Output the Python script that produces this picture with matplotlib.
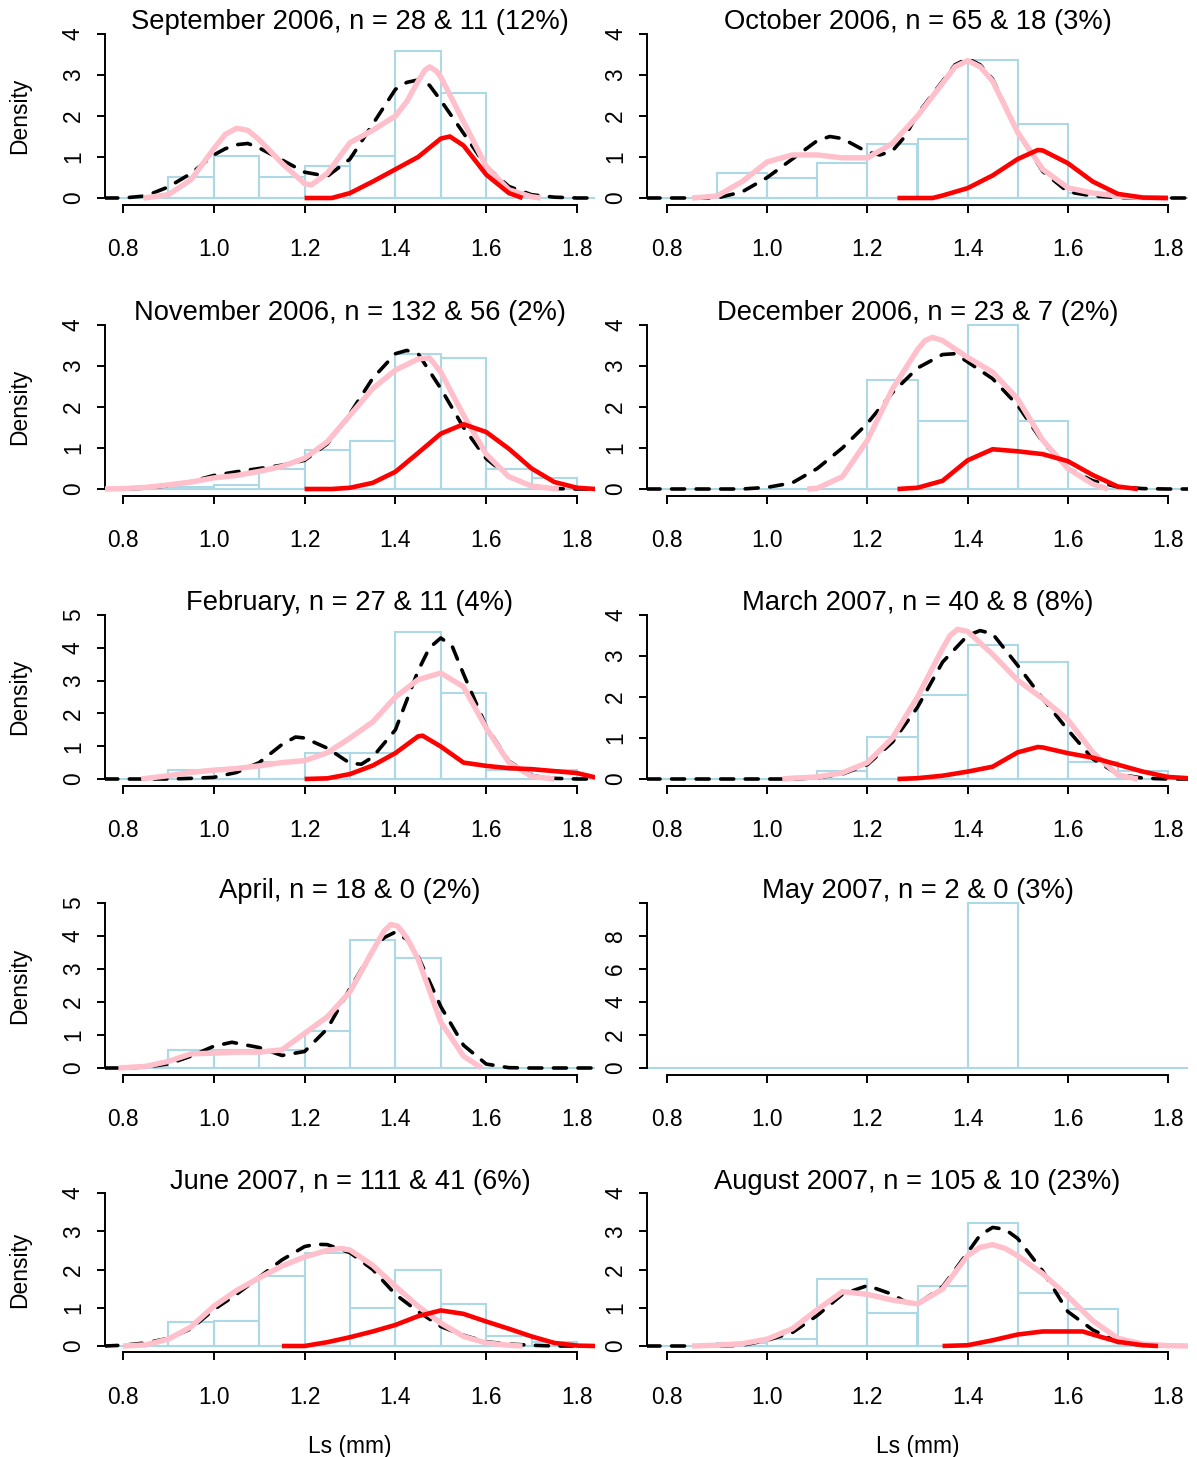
import numpy as np
import matplotlib
matplotlib.use('Agg')
import matplotlib.pyplot as plt
from matplotlib.transforms import offset_copy

plt.rcParams['font.family'] = ['Liberation Sans', 'DejaVu Sans']

# ---- data (densities, Ls in mm) ----
titles = ['September 2006, n = 28 & 11 (12%)', 'October 2006, n = 65 & 18 (3%)',
          'November 2006, n = 132 & 56 (2%)', 'December 2006, n = 23 & 7 (2%)',
          'February, n = 27 & 11 (4%)', 'March 2007, n = 40 & 8 (8%)',
          'April, n = 18 & 0 (2%)', 'May 2007, n = 2 & 0 (3%)',
          'June 2007, n = 111 & 41 (6%)', 'August 2007, n = 105 & 10 (23%)']
y_max = [4, 4, 4, 4, 5, 4, 5, 10, 4, 4]
y_step = [1, 1, 1, 1, 1, 1, 1, 2, 1, 1]

# histogram: first bin left edge, bin heights (bin width 0.1)
hist_start = [0.9, 0.9, 0.9, 1.2, 0.9, 1.1, 0.9, 1.4, 0.9, 0.9]
sep_hist = [0.513, 1.026, 0.513, 0.769, 1.026, 3.590, 2.564]
oct_hist = [0.602, 0.482, 0.843, 1.325, 1.446, 3.373, 1.807, 0.120]
nov_hist = [0.053, 0.106, 0.479, 0.957, 1.170, 3.298, 3.191, 0.479, 0.266]
dec_hist = [2.667, 1.667, 4.0, 1.667]
feb_hist = [0.263, 0.0, 0.526, 0.789, 0.789, 4.474, 2.632, 0.263, 0.263]
mar_hist = [0.204, 1.020, 2.041, 3.265, 2.857, 0.408, 0.204]
apr_hist = [0.556, 0.556, 0.556, 1.111, 3.889, 3.333]
may_hist = [10.0]
jun_hist = [0.615, 0.66, 1.83, 2.44, 0.99, 1.99, 1.11, 0.27, 0.11]
aug_hist = [0.087, 0.174, 1.739, 0.870, 1.565, 3.217, 1.391, 0.957]

# density curves: black dashed (all), pink, red
sep_blk_x = [0.76, 0.8, 0.85, 0.9, 0.95, 1.0, 1.025, 1.05, 1.075, 1.1, 1.15, 1.2, 1.25, 1.3, 1.35, 1.4, 1.425, 1.45, 1.475, 1.5, 1.55, 1.6, 1.65, 1.7, 1.75, 1.8, 1.84]
sep_blk_y = [0, 0, 0.05, 0.27, 0.6, 1.05, 1.2, 1.3, 1.33, 1.22, 0.93, 0.63, 0.53, 0.95, 1.8, 2.65, 2.82, 2.88, 2.75, 2.38, 1.58, 0.77, 0.28, 0.08, 0.02, 0, 0]
sep_pnk_x = [0.845, 0.9, 0.95, 1.0, 1.025, 1.05, 1.075, 1.1, 1.15, 1.2, 1.215, 1.25, 1.3, 1.35, 1.4, 1.425, 1.45, 1.465, 1.475, 1.49, 1.5, 1.55, 1.6, 1.65, 1.7, 1.72]
sep_pnk_y = [0, 0.08, 0.45, 1.2, 1.55, 1.7, 1.65, 1.42, 0.85, 0.35, 0.32, 0.6, 1.35, 1.65, 2.0, 2.35, 2.85, 3.12, 3.2, 3.1, 2.95, 1.86, 0.77, 0.2, 0.03, 0]
sep_red_x = [1.2, 1.26, 1.3, 1.35, 1.4, 1.45, 1.5, 1.52, 1.55, 1.6, 1.65, 1.68]
sep_red_y = [0, 0, 0.12, 0.4, 0.7, 1.0, 1.45, 1.5, 1.28, 0.57, 0.12, 0]

oct_blk_x = [0.76, 0.9, 0.95, 1.0, 1.05, 1.1, 1.125, 1.15, 1.2, 1.225, 1.25, 1.275, 1.3, 1.35, 1.375, 1.4, 1.425, 1.45, 1.5, 1.55, 1.6, 1.65, 1.7, 1.75, 1.84]
oct_blk_y = [0, 0, 0.15, 0.5, 0.95, 1.4, 1.5, 1.45, 1.12, 1.05, 1.15, 1.5, 2.05, 2.85, 3.25, 3.4, 3.25, 2.9, 1.6, 0.65, 0.15, 0.05, 0.01, 0, 0]
oct_pnk_x = [0.85, 0.9, 0.95, 1.0, 1.05, 1.1, 1.15, 1.2, 1.25, 1.3, 1.35, 1.375, 1.4, 1.425, 1.45, 1.5, 1.55, 1.6, 1.65, 1.7, 1.75, 1.8]
oct_pnk_y = [0, 0.05, 0.4, 0.88, 1.05, 1.05, 0.98, 0.98, 1.33, 2.0, 2.8, 3.2, 3.35, 3.2, 2.85, 1.6, 0.7, 0.25, 0.12, 0.05, 0.01, 0]
oct_red_x = [1.26, 1.33, 1.35, 1.4, 1.45, 1.5, 1.54, 1.55, 1.6, 1.65, 1.7, 1.75, 1.8]
oct_red_y = [0, 0, 0.06, 0.24, 0.55, 0.95, 1.17, 1.16, 0.85, 0.4, 0.1, 0.01, 0]

nov_blk_x = [0.76, 0.8, 0.85, 0.9, 0.95, 1.0, 1.05, 1.1, 1.15, 1.2, 1.25, 1.3, 1.35, 1.4, 1.425, 1.45, 1.5, 1.55, 1.6, 1.65, 1.7, 1.75, 1.8, 1.84]
nov_blk_y = [0, 0, 0.02, 0.08, 0.18, 0.33, 0.42, 0.5, 0.58, 0.7, 1.1, 1.84, 2.7, 3.3, 3.38, 3.3, 2.45, 1.5, 0.74, 0.3, 0.08, 0.01, 0, 0]
nov_pnk_x = [0.76, 0.8, 0.85, 0.9, 0.95, 1.0, 1.05, 1.1, 1.15, 1.2, 1.25, 1.3, 1.35, 1.4, 1.45, 1.475, 1.5, 1.55, 1.6, 1.65, 1.7, 1.75, 1.76]
nov_pnk_y = [0, 0.01, 0.04, 0.1, 0.17, 0.27, 0.33, 0.43, 0.55, 0.75, 1.15, 1.8, 2.45, 2.9, 3.17, 3.2, 2.85, 1.8, 0.85, 0.3, 0.07, 0.01, 0]
nov_red_x = [1.2, 1.26, 1.3, 1.35, 1.4, 1.45, 1.5, 1.55, 1.6, 1.65, 1.7, 1.75, 1.8, 1.84]
nov_red_y = [0, 0, 0.03, 0.15, 0.42, 0.88, 1.35, 1.58, 1.39, 0.98, 0.5, 0.17, 0.03, 0]

dec_blk_x = [0.76, 0.95, 1.0, 1.05, 1.1, 1.15, 1.2, 1.25, 1.3, 1.35, 1.375, 1.4, 1.45, 1.5, 1.55, 1.6, 1.65, 1.7, 1.75, 1.8, 1.84]
dec_blk_y = [0, 0, 0.04, 0.15, 0.5, 1.0, 1.6, 2.35, 2.95, 3.28, 3.3, 3.1, 2.69, 2.04, 1.15, 0.5, 0.2, 0.05, 0.01, 0, 0]
dec_pnk_x = [1.08, 1.1, 1.15, 1.2, 1.25, 1.3, 1.315, 1.33, 1.35, 1.4, 1.45, 1.5, 1.55, 1.6, 1.65, 1.68]
dec_pnk_y = [0, 0.02, 0.3, 1.19, 2.44, 3.4, 3.62, 3.7, 3.62, 3.21, 2.85, 2.2, 1.19, 0.5, 0.12, 0]
dec_red_x = [1.26, 1.3, 1.35, 1.4, 1.45, 1.5, 1.55, 1.6, 1.65, 1.7, 1.74]
dec_red_y = [0, 0.03, 0.2, 0.7, 0.97, 0.92, 0.85, 0.68, 0.34, 0.06, 0]

feb_blk_x = [0.76, 0.9, 0.95, 1.0, 1.05, 1.1, 1.15, 1.18, 1.2, 1.25, 1.3, 1.325, 1.35, 1.4, 1.425, 1.45, 1.475, 1.5, 1.525, 1.55, 1.6, 1.65, 1.7, 1.75, 1.8, 1.84]
feb_blk_y = [0, 0, 0.02, 0.05, 0.2, 0.5, 1.05, 1.28, 1.25, 0.94, 0.48, 0.45, 0.67, 1.5, 2.4, 3.3, 4.0, 4.3, 4.05, 3.2, 1.6, 0.54, 0.11, 0.02, 0, 0]
feb_pnk_x = [0.84, 0.9, 0.95, 1.0, 1.05, 1.1, 1.15, 1.2, 1.25, 1.3, 1.35, 1.4, 1.45, 1.5, 1.55, 1.6, 1.65, 1.7, 1.75]
feb_pnk_y = [0, 0.1, 0.2, 0.27, 0.32, 0.4, 0.5, 0.56, 0.8, 1.25, 1.74, 2.5, 3.03, 3.23, 2.81, 1.55, 0.5, 0.08, 0]
feb_red_x = [1.2, 1.25, 1.3, 1.35, 1.4, 1.45, 1.46, 1.5, 1.55, 1.6, 1.65, 1.7, 1.75, 1.8, 1.84]
feb_red_y = [0, 0.02, 0.15, 0.41, 0.79, 1.3, 1.32, 0.99, 0.5, 0.4, 0.33, 0.3, 0.24, 0.18, 0.05]

mar_blk_x = [0.76, 1.05, 1.1, 1.15, 1.2, 1.25, 1.3, 1.35, 1.4, 1.425, 1.45, 1.5, 1.55, 1.6, 1.65, 1.7, 1.75, 1.8, 1.84]
mar_blk_y = [0, 0, 0.03, 0.12, 0.35, 0.9, 1.75, 2.85, 3.5, 3.62, 3.54, 2.77, 1.96, 1.2, 0.49, 0.12, 0.02, 0, 0]
mar_pnk_x = [1.03, 1.05, 1.1, 1.15, 1.2, 1.25, 1.3, 1.35, 1.365, 1.38, 1.4, 1.45, 1.5, 1.55, 1.6, 1.65, 1.7, 1.74]
mar_pnk_y = [0, 0.02, 0.05, 0.15, 0.4, 1.0, 2.0, 3.18, 3.5, 3.65, 3.6, 3.04, 2.41, 1.96, 1.45, 0.65, 0.1, 0]
mar_red_x = [1.26, 1.3, 1.35, 1.4, 1.45, 1.5, 1.54, 1.55, 1.6, 1.65, 1.7, 1.75, 1.8, 1.84]
mar_red_y = [0, 0.02, 0.08, 0.18, 0.3, 0.65, 0.78, 0.77, 0.63, 0.52, 0.35, 0.18, 0.05, 0.02]

apr_blk_x = [0.76, 0.8, 0.85, 0.9, 0.95, 1.0, 1.04, 1.1, 1.15, 1.2, 1.25, 1.3, 1.35, 1.375, 1.4, 1.425, 1.45, 1.5, 1.55, 1.6, 1.65, 1.7, 1.84]
apr_blk_y = [0, 0, 0.03, 0.12, 0.36, 0.66, 0.78, 0.62, 0.38, 0.5, 1.19, 2.41, 3.56, 3.95, 4.12, 3.9, 3.38, 1.86, 0.69, 0.12, 0.01, 0, 0]
apr_pnk_x = [0.79, 0.85, 0.9, 0.95, 1.0, 1.05, 1.1, 1.15, 1.2, 1.25, 1.3, 1.35, 1.375, 1.39, 1.405, 1.425, 1.45, 1.5, 1.55, 1.59]
apr_pnk_y = [0, 0.05, 0.2, 0.43, 0.45, 0.48, 0.48, 0.55, 1.05, 1.55, 2.31, 3.55, 4.15, 4.35, 4.3, 3.95, 3.3, 1.39, 0.36, 0]

jun_blk_x = [0.76, 0.8, 0.85, 0.9, 0.95, 1.0, 1.05, 1.1, 1.15, 1.2, 1.225, 1.25, 1.3, 1.35, 1.4, 1.45, 1.5, 1.55, 1.6, 1.65, 1.7, 1.75, 1.84]
jun_blk_y = [0, 0.02, 0.08, 0.2, 0.45, 0.95, 1.35, 1.8, 2.25, 2.6, 2.66, 2.65, 2.44, 2.0, 1.35, 0.9, 0.51, 0.28, 0.11, 0.05, 0.02, 0, 0]
jun_pnk_x = [0.8, 0.85, 0.9, 0.95, 1.0, 1.05, 1.1, 1.15, 1.2, 1.25, 1.28, 1.3, 1.35, 1.4, 1.45, 1.5, 1.55, 1.6, 1.65, 1.68]
jun_pnk_y = [0, 0.03, 0.18, 0.5, 1.04, 1.45, 1.78, 2.09, 2.33, 2.5, 2.55, 2.51, 2.11, 1.56, 1.04, 0.6, 0.25, 0.08, 0.02, 0]
jun_red_x = [1.15, 1.2, 1.25, 1.3, 1.35, 1.4, 1.45, 1.5, 1.55, 1.6, 1.65, 1.7, 1.75, 1.8, 1.84]
jun_red_y = [0, 0, 0.1, 0.23, 0.38, 0.55, 0.78, 0.93, 0.84, 0.64, 0.45, 0.25, 0.08, 0.01, 0]

aug_blk_x = [0.76, 0.9, 0.95, 1.0, 1.05, 1.1, 1.15, 1.2, 1.25, 1.28, 1.3, 1.35, 1.4, 1.425, 1.45, 1.475, 1.5, 1.55, 1.6, 1.65, 1.7, 1.75, 1.8, 1.84]
aug_blk_y = [0, 0, 0.02, 0.15, 0.35, 0.8, 1.35, 1.58, 1.35, 1.12, 1.1, 1.55, 2.44, 2.9, 3.1, 3.05, 2.81, 1.96, 0.9, 0.42, 0.1, 0.02, 0, 0]
aug_pnk_x = [0.85, 0.9, 0.95, 1.0, 1.05, 1.1, 1.15, 1.2, 1.25, 1.3, 1.35, 1.4, 1.425, 1.45, 1.475, 1.5, 1.55, 1.6, 1.65, 1.7, 1.75, 1.8, 1.84]
aug_pnk_y = [0, 0.02, 0.06, 0.18, 0.45, 0.95, 1.42, 1.35, 1.2, 1.1, 1.49, 2.36, 2.58, 2.65, 2.55, 2.36, 1.89, 1.3, 0.66, 0.2, 0.05, 0.01, 0]
aug_red_x = [1.35, 1.4, 1.45, 1.5, 1.55, 1.6, 1.63, 1.65, 1.7, 1.75, 1.78]
aug_red_y = [0, 0.02, 0.15, 0.3, 0.38, 0.38, 0.38, 0.3, 0.11, 0.02, 0]

hists = [sep_hist, oct_hist, nov_hist, dec_hist, feb_hist, mar_hist, apr_hist, may_hist, jun_hist, aug_hist]
curves = [
    [(sep_blk_x, sep_blk_y), (sep_pnk_x, sep_pnk_y), (sep_red_x, sep_red_y)],
    [(oct_blk_x, oct_blk_y), (oct_pnk_x, oct_pnk_y), (oct_red_x, oct_red_y)],
    [(nov_blk_x, nov_blk_y), (nov_pnk_x, nov_pnk_y), (nov_red_x, nov_red_y)],
    [(dec_blk_x, dec_blk_y), (dec_pnk_x, dec_pnk_y), (dec_red_x, dec_red_y)],
    [(feb_blk_x, feb_blk_y), (feb_pnk_x, feb_pnk_y), (feb_red_x, feb_red_y)],
    [(mar_blk_x, mar_blk_y), (mar_pnk_x, mar_pnk_y), (mar_red_x, mar_red_y)],
    [(apr_blk_x, apr_blk_y), (apr_pnk_x, apr_pnk_y), None],
    [None, None, None],
    [(jun_blk_x, jun_blk_y), (jun_pnk_x, jun_pnk_y), (jun_red_x, jun_red_y)],
    [(aug_blk_x, aug_blk_y), (aug_pnk_x, aug_pnk_y), (aug_red_x, aug_red_y)],
]
x_ticks = [0.8, 1.0, 1.2, 1.4, 1.6, 1.8]

# ---- layout (pixels of the 1197x1457 target) ----
W, H = 1197, 1457
col_px = [(104.8, 595.2), (647.0, 1188.0)]          # x = 0.76 .. 1.84
row_px = [(198, 34), (489, 325), (779, 615), (1068, 903), (1346, 1193)]  # y of 0 and of top tick

fig = plt.figure(figsize=(W / 100, H / 100), dpi=100)

curve_styles = [
    dict(color='black', lw=2.6, ls=(0, (3.6, 3.2)), dash_capstyle='round',
         dash_joinstyle='round', zorder=3),
    dict(color='pink', lw=3.9, zorder=4, solid_capstyle='butt', solid_joinstyle='round'),
    dict(color='red', lw=3.3, zorder=5, solid_capstyle='butt', solid_joinstyle='round'),
]

for i in range(10):
    r, c = divmod(i, 2)
    x0, x1 = col_px[c]
    y0, yt = row_px[r]
    ext = 0.04 * (y0 - yt)
    bot, top = y0 + ext, yt - ext
    ax = fig.add_axes([x0 / W, 1 - bot / H, (x1 - x0) / W, (bot - top) / H])
    ymax = y_max[i]
    ax.set_xlim(0.76, 1.84)
    ax.set_ylim(-0.04 * ymax, 1.04 * ymax)

    h = hists[i]
    lefts = np.round(hist_start[i] + 0.1 * np.arange(len(h)), 2)
    ax.axhline(0, color='lightblue', lw=1.5, zorder=1)
    ax.bar(lefts, h, width=0.1, align='edge', facecolor='none',
           edgecolor='lightblue', linewidth=1.5, zorder=2)
    for cv, st in zip(curves[i], curve_styles):
        if cv is not None:
            ax.plot(cv[0], cv[1], **st)

    for s in ['top', 'right']:
        ax.spines[s].set_visible(False)
    ax.spines['bottom'].set_bounds(0.8, 1.8)
    ax.spines['left'].set_bounds(0, ymax)
    ax.spines['bottom'].set_linewidth(1.4)
    ax.spines['left'].set_linewidth(1.4)

    ax.set_xticks(x_ticks)
    ax.set_xticklabels([f'{v:.1f}' for v in x_ticks])
    yt_vals = np.arange(0, ymax + 0.5 * y_step[i], y_step[i])
    ax.set_yticks(yt_vals)
    ax.set_yticklabels([str(int(v)) if v < 10 else '' for v in yt_vals])
    ax.tick_params(direction='out', length=5.8, width=1.4, labelsize=16.4)
    ax.tick_params(axis='x', pad=18.5)
    ax.tick_params(axis='y', pad=8.5, labelrotation=90)
    for lab in ax.get_yticklabels():
        lab.set_va('center')

    ax.text(0.5, 1.0, titles[i], ha='center', va='baseline', fontsize=19.7,
            transform=offset_copy(ax.transAxes, fig=fig, y=-2, units='dots'))

    if c == 0:
        fig.text(20 / W, 1 - (y0 + yt) / 2 / H, 'Density', rotation=90,
                 ha='center', va='center', fontsize=16.4)
    if r == 4:
        fig.text((x0 + x1) / 2 / W, 1 - 1453 / H, 'Ls (mm)', ha='center',
                 va='baseline', fontsize=16.4)

fig.savefig('out.png', dpi=100)
